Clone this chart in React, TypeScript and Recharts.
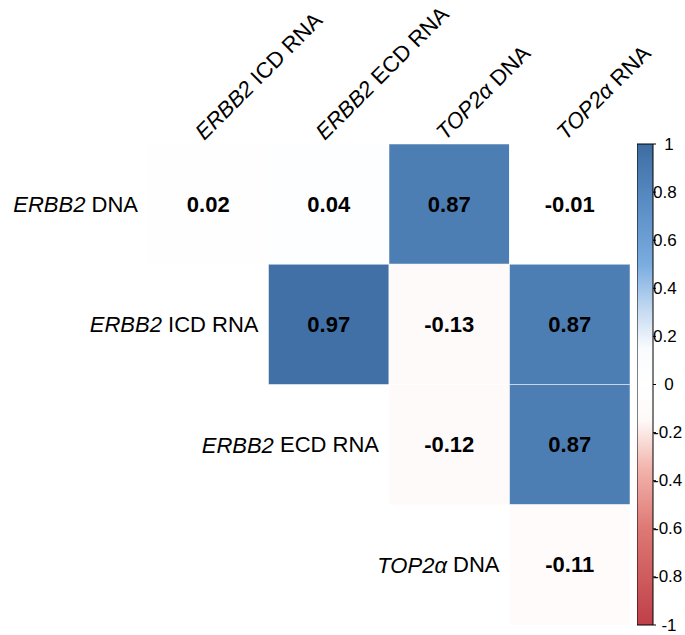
import { Bar, BarChart, Scatter, ScatterChart, XAxis, YAxis } from "recharts";

// column / row names (gene part is italic)
const COL_GENE = ["ERBB2", "ERBB2", "TOP2α", "TOP2α"];
const COL_REST = ["ICD RNA", "ECD RNA", "DNA", "RNA"];
const ROW_GENE = ["ERBB2", "ERBB2", "ERBB2", "TOP2α"];
const ROW_REST = ["DNA", "ICD RNA", "ECD RNA", "DNA"];

// upper triangle, each row starts at the diagonal column
const ROW_ERBB2_DNA = [0.02, 0.04, 0.87, -0.01];
const ROW_ERBB2_ICD = [0.97, -0.13, 0.87];
const ROW_ERBB2_ECD = [-0.12, 0.87];
const ROW_TOP2A_DNA = [-0.11];

const CB_TICKS = [1, 0.8, 0.6, 0.4, 0.2, 0, -0.2, -0.4, -0.6, -0.8, -1];

const W = 685;
const H = 635;
const FONT = "'Liberation Sans', Arial, sans-serif";
const M = { top: 144, right: 55, bottom: 10, left: 148 };
const CELL_W = (W - M.left - M.right) / COL_GENE.length;
const CELL_H = (H - M.top - M.bottom) / ROW_GENE.length;

// colour ramp, value -> rgb
const RAMP: [number, number[]][] = [
  [-1, [191, 63, 72]],
  [-0.6, [222, 120, 116]],
  [-0.35, [242, 180, 172]],
  [-0.15, [254, 249, 248]],
  [0, [255, 255, 255]],
  [0.15, [249, 251, 254]],
  [0.3, [200, 220, 242]],
  [0.5, [122, 172, 224]],
  [0.8, [83, 135, 190]],
  [1, [62, 108, 162]],
];

function colorOf(v: number) {
  for (let i = 1; i < RAMP.length; i++) {
    const [v1, c1] = RAMP[i];
    const [v0, c0] = RAMP[i - 1];
    if (v <= v1) {
      const t = (v - v0) / (v1 - v0);
      const c = c0.map((a, k) => Math.round(a + (c1[k] - a) * t));
      return `rgb(${c[0]},${c[1]},${c[2]})`;
    }
  }
  return "rgb(62,108,162)";
}

const cells = [ROW_ERBB2_DNA, ROW_ERBB2_ICD, ROW_ERBB2_ECD, ROW_TOP2A_DNA].flatMap(
  (vals, r) => vals.map((v, k) => ({ x: r + k, y: r, v }))
);
const rowLabels = ROW_GENE.map((g, i) => ({ x: i - 0.5, y: i, gene: g, rest: ROW_REST[i] }));
const colLabels = COL_GENE.map((g, i) => ({ x: i, y: -0.5, gene: g, rest: COL_REST[i] }));
const cbData = [{ k: "cb", range: [-1, 1] }];

function CellShape(props: any) {
  const { cx, cy, payload } = props;
  return (
    <g>
      <rect
        x={cx - CELL_W / 2}
        y={cy - CELL_H / 2}
        width={CELL_W}
        height={CELL_H}
        fill={colorOf(payload.v)}
        stroke="#ffffff"
        strokeOpacity={0.5}
      />
      <text
        x={cx}
        y={cy}
        textAnchor="middle"
        dominantBaseline="central"
        fontFamily={FONT}
        fontWeight="bold"
        fontSize={22}
        fill="#000"
      >
        {payload.v.toFixed(2)}
      </text>
    </g>
  );
}

function RowLabel(props: any) {
  const { cx, cy, payload } = props;
  return (
    <text x={cx - 10} y={cy} textAnchor="end" dominantBaseline="central" fontFamily={FONT} fontSize={22} fill="#000">
      <tspan fontStyle="italic">{payload.gene}</tspan> {payload.rest}
    </text>
  );
}

function ColLabel(props: any) {
  const { cx, cy, payload } = props;
  const x = cx - 4;
  const y = cy - 3;
  return (
    <text x={x} y={y} transform={`rotate(-45 ${x} ${y})`} fontFamily={FONT} fontSize={22} fill="#000">
      <tspan fontStyle="italic">{payload.gene}</tspan> {payload.rest}
    </text>
  );
}

function CbTick(props: any) {
  const { x, y, payload } = props;
  const whole = Number.isInteger(payload.value);
  return (
    <text
      x={whole ? x + 12 : x - 4}
      y={y}
      textAnchor={whole ? "middle" : "start"}
      dominantBaseline="central"
      fontFamily={FONT}
      fontSize={17}
      fill="#000"
    >
      {payload.value}
    </text>
  );
}

export default function App() {
  return (
    <div style={{ position: "absolute", left: 0, top: 0, width: W, height: H, background: "#fff" }}>
      <div style={{ position: "absolute", left: 0, top: 0 }}>
        <ScatterChart width={W} height={H} margin={M}>
          <XAxis type="number" dataKey="x" domain={[-0.5, 3.5]} hide />
          <YAxis type="number" dataKey="y" domain={[-0.5, 3.5]} reversed hide />
          <Scatter data={cells} shape={CellShape} isAnimationActive={false} />
          <Scatter data={rowLabels} shape={RowLabel} isAnimationActive={false} />
          <Scatter data={colLabels} shape={ColLabel} isAnimationActive={false} />
        </ScatterChart>
      </div>
      <div style={{ position: "absolute", left: 637, top: 0 }}>
        <BarChart width={48} height={H} data={cbData} margin={{ top: 144, right: 0, bottom: 10, left: 0 }} barCategoryGap={0}>
          <defs>
            <linearGradient id="cbGrad" x1="0" y1="0" x2="0" y2="1">
              {RAMP.slice().reverse().map(([v, c]) => (
                <stop key={v} offset={`${((1 - v) / 2) * 100}%`} stopColor={`rgb(${c[0]},${c[1]},${c[2]})`} />
              ))}
            </linearGradient>
          </defs>
          <XAxis dataKey="k" hide />
          <YAxis
            orientation="right"
            width={32}
            domain={[-1, 1]}
            ticks={CB_TICKS}
            axisLine={false}
            tickSize={3}
            tickMargin={1}
            tickLine={{ stroke: "#000" }}
            tick={CbTick}
            interval={0}
          />
          <Bar dataKey="range" fill="url(#cbGrad)" stroke="#000" strokeWidth={1} isAnimationActive={false} />
        </BarChart>
      </div>
    </div>
  );
}
